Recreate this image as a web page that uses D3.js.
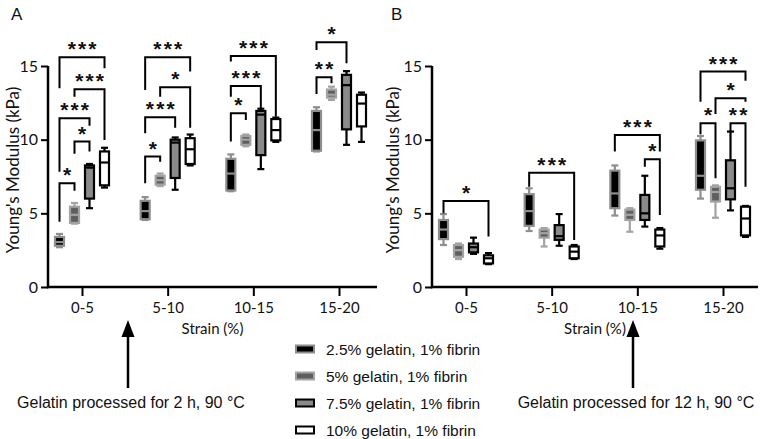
<!DOCTYPE html>
<html><head><meta charset="utf-8">
<script src="https://cdn.jsdelivr.net/npm/d3@7"></script>
<style>
html,body{margin:0;padding:0;background:#fff;}
svg{display:block;}
</style></head>
<body>
<svg id="chart" width="760" height="439"></svg>
<script>
// ---------- DATA ----------
const categories = ["0-5", "5-10", "10-15", "15-20"];
const groups = ["2.5% gelatin, 1% fibrin", "5% gelatin, 1% fibrin", "7.5% gelatin, 1% fibrin", "10% gelatin, 1% fibrin"];
const yTicks = [0, 5, 10, 15];
const xTitle = "Strain (%)";
const yTitle = "Young's Modulus (kPa)";

// box stats per category: [min, q1, median, q3, max]  (kPa)
// Panel A: gelatin processed for 2 h
const a_gel25 = [[2.7, 2.8, 3.05, 3.4, 3.6], [4.55, 4.6, 5.15, 5.85, 6.1], [6.5, 6.55, 7.7, 8.7, 9.0], [9.2, 9.25, 10.65, 11.95, 12.2]];
const a_gel5  = [[4.3, 4.35, 4.9, 5.45, 5.7], [6.85, 6.95, 7.25, 7.55, 7.7], [9.55, 9.65, 10.0, 10.25, 10.35], [12.7, 12.85, 13.05, 13.4, 13.6]];
const a_gel75 = [[5.35, 6.0, 8.1, 8.25, 8.35], [6.6, 7.4, 9.8, 10.0, 10.15], [8.0, 8.95, 11.7, 11.95, 12.1], [9.65, 10.7, 13.7, 14.4, 14.65]];
const a_gel10 = [[6.75, 6.9, 8.45, 9.2, 9.45], [8.25, 8.35, 9.35, 10.1, 10.35], [9.85, 9.95, 10.65, 11.4, 11.5], [9.85, 10.9, 12.45, 13.05, 13.2]];
// Panel B: gelatin processed for 12 h
const b_gel25 = [[2.85, 3.25, 3.9, 4.55, 4.95], [3.8, 4.15, 5.15, 6.3, 6.7], [4.85, 5.35, 6.35, 7.9, 8.25], [6.0, 6.6, 7.55, 9.95, 10.25]];
const b_gel5  = [[1.9, 2.05, 2.5, 2.85, 2.95], [2.75, 3.35, 3.65, 3.9, 4.0], [3.75, 4.55, 4.9, 5.25, 5.35], [4.7, 5.8, 6.45, 6.8, 6.9]];
const b_gel75 = [[2.25, 2.35, 2.7, 2.95, 3.35], [2.8, 3.2, 3.45, 4.2, 4.95], [4.1, 4.55, 5.0, 6.25, 7.55], [5.2, 5.95, 6.7, 8.6, 10.55]];
const b_gel10 = [[1.55, 1.6, 1.95, 2.15, 2.3], [1.9, 1.95, 2.4, 2.75, 2.85], [2.6, 2.75, 3.5, 3.9, 4.0], [3.4, 3.5, 4.65, 5.45, 5.5]];

// significance brackets: [category, groupFrom, groupTo, bar level, left leg end, right leg end, label]
const sigA = [
  [0, 0, 1, 7.04, 4.43, 6.54, "*"],
  [0, 1, 2, 9.87, 9.05, 9.19, "*"],
  [0, 0, 2, 11.45, 7.83, 10.95, "***"],
  [0, 1, 3, 13.42, 12.92, 9.98, "***"],
  [0, 0, 3, 15.6, 13.49, 14.85, "***"],
  [1, 0, 1, 8.85, 7.04, 8.5, "*"],
  [1, 0, 2, 11.52, 10.43, 10.81, "***"],
  [1, 1, 3, 13.56, 12.92, 10.81, "*"],
  [1, 0, 3, 15.6, 13.37, 14.62, "***"],
  [2, 0, 1, 11.79, 9.87, 11.34, "*"],
  [2, 0, 2, 13.65, 12.92, 12.13, "***"],
  [2, 0, 3, 15.68, 15.3, 11.56, "***"],
  [3, 0, 1, 14.23, 13.1, 13.83, "**"],
  [3, 0, 2, 16.61, 16.09, 15.19, "*"]
];
const sigB = [
  [0, 0, 3, 5.84, 5.0, 3.42, "*"],
  [1, 0, 3, 7.76, 6.81, 3.19, "***"],
  [2, 0, 3, 10.32, 9.19, 9.19, "***"],
  [2, 2, 3, 8.67, 8.17, 4.89, "*"],
  [3, 0, 3, 14.62, 12.58, 14.0, "***"],
  [3, 1, 3, 12.81, 11.74, 12.58, "*"],
  [3, 0, 1, 11.11, 10.36, 7.38, "*"],
  [3, 2, 3, 11.11, 10.55, 6.81, "**"]
];
const notes = ["Gelatin processed for 2 h, 90 °C", "Gelatin processed for 12 h, 90 °C"];
const panelLabels = ["A", "B"];

// ---------- STYLE ----------
const styles = [
  {fill: "#000000", stroke: "#8e8e8e", median: "#8e8e8e"},
  {fill: "#5e5e5e", stroke: "#a3a3a3", median: "#a3a3a3"},
  {fill: "#8a8a8a", stroke: "#000000", median: "#000000"},
  {fill: "#ffffff", stroke: "#000000", median: "#000000"}
];
const tickFont = "Lato, 'Open Sans', sans-serif";
const textFont = "'Liberation Sans', Arial, sans-serif";

const svg = d3.select("#chart");

const y = d3.scaleLinear().domain([0, 15]).range([287, 66]);
const x = d3.scalePoint().domain(categories).range([34, 291]);
const xg = d3.scaleBand().domain(d3.range(groups.length)).range([-30, 30]);
const gx = i => xg(i) + xg.bandwidth() / 2;
const boxW = 9;

const panels = [
  {x0: 48, len: 329, data: [a_gel25, a_gel5, a_gel75, a_gel10], sig: sigA, label: panelLabels[0], labelX: -36},
  {x0: 432, len: 326, data: [b_gel25, b_gel5, b_gel75, b_gel10], sig: sigB, label: panelLabels[1], labelX: -40}
];

panels.forEach((p) => {
  const g = svg.append("g").attr("transform", `translate(${p.x0},0)`);

  // y axis
  const ya = g.append("g").call(d3.axisLeft(y).tickValues(yTicks).tickSize(7).tickSizeOuter(0).tickPadding(3));
  ya.select(".domain").remove();
  ya.selectAll(".tick line").attr("stroke", "#000").attr("stroke-width", 2);
  ya.selectAll(".tick text").attr("font-family", tickFont).attr("font-size", 16).attr("fill", "#111");
  g.append("line").attr("x1", 0).attr("x2", 0).attr("y1", y(15)).attr("y2", y(0) + 1.2)
    .attr("stroke", "#000").attr("stroke-width", 2.5);

  // x axis
  const xa = g.append("g").attr("transform", `translate(0,${y(0)})`)
    .call(d3.axisBottom(x).tickSize(9).tickPadding(6));
  xa.select(".domain").remove();
  xa.selectAll(".tick line").attr("stroke", "#000").attr("stroke-width", 2);
  xa.selectAll(".tick text").attr("font-family", tickFont).attr("font-size", 15).attr("fill", "#111");
  g.append("line").attr("x1", -1.2).attr("x2", p.len).attr("y1", y(0)).attr("y2", y(0))
    .attr("stroke", "#000").attr("stroke-width", 2.5);

  // titles
  g.append("text").attr("x", p.len / 2).attr("y", 334).attr("text-anchor", "middle")
    .attr("font-family", tickFont).attr("font-size", 15).attr("fill", "#111").text(xTitle);
  g.append("text").attr("transform", `translate(${p.labelX},${170}) rotate(-90)`)
    .attr("text-anchor", "middle").attr("dominant-baseline", "central")
    .attr("font-family", tickFont).attr("font-size", 17).attr("fill", "#111").text(yTitle);
  g.append("text").attr("x", p.labelX - 1).attr("y", 20).attr("text-anchor", "start")
    .attr("font-family", textFont).attr("font-size", 17).attr("fill", "#111").text(p.label);

  // boxes
  p.data.forEach((series, gi) => {
    const st = styles[gi];
    series.forEach((d, ci) => {
      const cx = x(categories[ci]) + gx(gi);
      const bg = g.append("g");
      const sw = 2.2;
      bg.append("line").attr("x1", cx).attr("x2", cx).attr("y1", y(d[4])).attr("y2", y(d[3]))
        .attr("stroke", st.stroke).attr("stroke-width", sw);
      bg.append("line").attr("x1", cx).attr("x2", cx).attr("y1", y(d[1])).attr("y2", y(d[0]))
        .attr("stroke", st.stroke).attr("stroke-width", sw);
      [d[0], d[4]].forEach(v => {
        bg.append("line").attr("x1", cx - 3.5).attr("x2", cx + 3.5).attr("y1", y(v)).attr("y2", y(v))
          .attr("stroke", st.stroke).attr("stroke-width", sw);
      });
      bg.append("rect").attr("x", cx - boxW / 2).attr("width", boxW)
        .attr("y", y(d[3])).attr("height", Math.max(0.5, y(d[1]) - y(d[3])))
        .attr("fill", st.fill).attr("stroke", st.stroke).attr("stroke-width", sw);
      bg.append("line").attr("x1", cx - boxW / 2).attr("x2", cx + boxW / 2).attr("y1", y(d[2])).attr("y2", y(d[2]))
        .attr("stroke", st.median).attr("stroke-width", sw);
    });
  });

  // significance brackets
  p.sig.forEach(s => {
    const [ci, g1, g2, lvl, l1, l2, lab] = s;
    const xa1 = x(categories[ci]) + gx(g1);
    const xa2 = x(categories[ci]) + gx(g2);
    const yl = y(lvl);
    g.append("path")
      .attr("d", `M${xa1},${y(l1)}V${yl}H${xa2}V${y(l2)}`)
      .attr("fill", "none").attr("stroke", "#000").attr("stroke-width", 2).attr("stroke-linejoin", "miter");
    g.append("text").attr("x", (xa1 + xa2) / 2).attr("dx", 1.2).attr("y", yl - 1)
      .attr("text-anchor", "middle").attr("font-family", textFont).attr("font-weight", "bold")
      .attr("font-size", 21).attr("letter-spacing", 2.2).attr("fill", "#111").text(lab);
  });
});

// arrows + notes
const arrows = [{x: 128, note: notes[0]}, {x: 633, note: notes[1]}];
arrows.forEach(a => {
  svg.append("line").attr("x1", a.x).attr("x2", a.x).attr("y1", 388).attr("y2", 334)
    .attr("stroke", "#000").attr("stroke-width", 2.5);
  svg.append("path").attr("d", `M${a.x},${320}L${a.x - 6.5},${337}L${a.x + 6.5},${337}Z`).attr("fill", "#000");
  svg.append("text").attr("x", a.x + 3).attr("y", 408).attr("text-anchor", "middle")
    .attr("font-family", textFont).attr("font-size", 16).attr("fill", "#111").text(a.note);
});

// legend
const lg = svg.append("g").attr("transform", "translate(296,349)");
groups.forEach((name, i) => {
  const row = lg.append("g").attr("transform", `translate(0,${i * 27})`);
  row.append("rect").attr("x", 0).attr("y", -3.5).attr("width", 18).attr("height", 7)
    .attr("fill", styles[i].fill).attr("stroke", styles[i].stroke).attr("stroke-width", 2);
  row.append("text").attr("x", 30).attr("y", 0).attr("dominant-baseline", "central")
    .attr("font-family", textFont).attr("font-size", 15.5).attr("fill", "#111").text(name);
});
</script>
</body></html>
